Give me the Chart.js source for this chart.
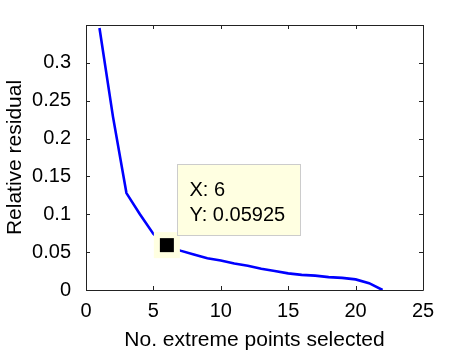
<!DOCTYPE html>
<html>
<head>
<meta charset="utf-8">
<script src="https://cdn.jsdelivr.net/npm/chart.js@4.4.0/dist/chart.umd.min.js"></script>
<style>
html, body { margin: 0; padding: 0; background: #fff; }
#wrap { width: 465px; height: 353px; }
</style>
</head>
<body>
<div id="wrap"><canvas id="residualChart"></canvas></div>
<script>
var pointsSelected = [1, 2, 3, 4, 5, 6, 7, 8, 9, 10, 11, 12, 13, 14, 15, 16, 17, 18, 19, 20, 21, 22];
var relResidual = [0.346, 0.229, 0.128, 0.100, 0.074, 0.05925, 0.052, 0.047, 0.042, 0.039, 0.035,
                   0.032, 0.028, 0.025, 0.022, 0.020, 0.019, 0.017, 0.016, 0.014, 0.009, 0.0];
var xTicks = [0, 5, 10, 15, 20, 25];
var yTicks = [0, 0.05, 0.1, 0.15, 0.2, 0.25, 0.3];
var yTickLabels = ['0', '0.05', '0.1', '0.15', '0.2', '0.25', '0.3'];
var pickX = 6;
var pickY = 0.05925;
var tipLines = ['X: 6', 'Y: 0.05925'];

var fontFam = '"Liberation Sans", Arial, Helvetica, sans-serif';
var tipYellow = 'rgb(255,255,225)';

function toXY(xs, ys) {
    var out = [];
    for (var i = 0; i < xs.length; i++) {
        out.push({x: xs[i], y: ys[i]});
    }
    return out;
}

// box round the axes with inward ticks, and the data tip
var matlabBox = {
    id: 'matlabBox',
    afterDraw: function (chart) {
        var ctx = chart.ctx;
        var a = chart.chartArea;
        var sx = chart.scales.x, sy = chart.scales.y;
        var tl = 4;
        ctx.save();
        ctx.strokeStyle = '#222';
        ctx.lineWidth = 1;
        ctx.beginPath();
        ctx.rect(Math.round(a.left) + 0.5, Math.round(a.top) + 0.5,
                 Math.round(a.right - a.left), Math.round(a.bottom - a.top));
        for (var i = 0; i < xTicks.length; i++) {
            var px = Math.round(sx.getPixelForValue(xTicks[i])) + 0.5;
            ctx.moveTo(px, a.bottom); ctx.lineTo(px, a.bottom - tl);
            ctx.moveTo(px, a.top); ctx.lineTo(px, a.top + tl);
        }
        for (var j = 0; j < yTicks.length; j++) {
            var py = Math.round(sy.getPixelForValue(yTicks[j])) + 0.5;
            ctx.moveTo(a.left, py); ctx.lineTo(a.left + tl, py);
            ctx.moveTo(a.right, py); ctx.lineTo(a.right - tl, py);
        }
        ctx.stroke();

        // data tip
        var mx = sx.getPixelForValue(pickX);
        var my = sy.getPixelForValue(pickY);
        var bx = Math.round(mx + 10) + 0.5, by = Math.round(my - 81) + 0.5;
        ctx.fillStyle = tipYellow;
        ctx.fillRect(bx, by, 123, 71);
        ctx.strokeStyle = 'rgb(204,204,204)';
        ctx.strokeRect(bx, by, 123, 71);
        ctx.fillStyle = '#000';
        ctx.font = '20px ' + fontFam;
        ctx.textBaseline = 'alphabetic';
        ctx.fillText(tipLines[0], bx + 12, by + 31);
        ctx.fillText(tipLines[1], bx + 12, by + 56);
        ctx.restore();
    }
};

var ctx = document.getElementById('residualChart').getContext('2d');
var residualChart = new Chart(ctx, {
    type: 'line',
    data: {
        datasets: [
            {
                data: toXY([pickX], [pickY]),
                showLine: false,
                pointStyle: 'rect',
                pointRadius: 9.9,
                pointBorderWidth: 0,
                pointBackgroundColor: '#000',
                order: 1
            },
            {
                data: toXY([pickX], [pickY]),
                showLine: false,
                pointStyle: 'rect',
                pointRadius: 18.4,
                pointBorderWidth: 0,
                pointBackgroundColor: tipYellow,
                order: 2
            },
            {
                data: toXY(pointsSelected, relResidual),
                borderColor: 'rgb(0,0,255)',
                borderWidth: 2.6,
                pointRadius: 0,
                fill: false,
                tension: 0,
                order: 3
            }
        ]
    },
    options: {
        responsive: true,
        maintainAspectRatio: false,
        animation: false,
        events: [],
        layout: { padding: { top: 25, right: 42, left: 0, bottom: 0 } },
        plugins: { legend: { display: false }, tooltip: { enabled: false } },
        scales: {
            x: {
                type: 'linear',
                min: 0,
                max: 25,
                grid: { display: false },
                border: { display: false },
                afterBuildTicks: function (scale) {
                    scale.ticks = xTicks.map(function (v) { return {value: v}; });
                },
                afterFit: function (scale) { scale.height = 63; },
                ticks: {
                    color: '#000',
                    padding: 1,
                    maxRotation: 0,
                    font: { family: fontFam, size: 20 },
                    callback: function (v) { return String(v); }
                },
                title: {
                    display: true,
                    text: 'No. extreme points selected',
                    color: '#000',
                    padding: { top: 0, bottom: 0 },
                    font: { family: fontFam, size: 21 }
                }
            },
            y: {
                min: 0,
                max: 0.35,
                grid: { display: false },
                border: { display: false },
                afterBuildTicks: function (scale) {
                    scale.ticks = yTicks.map(function (v) { return {value: v}; });
                },
                afterFit: function (scale) { scale.width = 86; },
                ticks: {
                    color: '#000',
                    padding: 7,
                    font: { family: fontFam, size: 20 },
                    callback: function (v) {
                        var k = yTicks.indexOf(v);
                        return k >= 0 ? yTickLabels[k] : '';
                    }
                },
                title: {
                    display: true,
                    text: 'Relative residual',
                    color: '#000',
                    padding: { top: 3, bottom: 0 },
                    font: { family: fontFam, size: 21 }
                }
            }
        }
    },
    plugins: [matlabBox]
});
</script>
</body>
</html>
